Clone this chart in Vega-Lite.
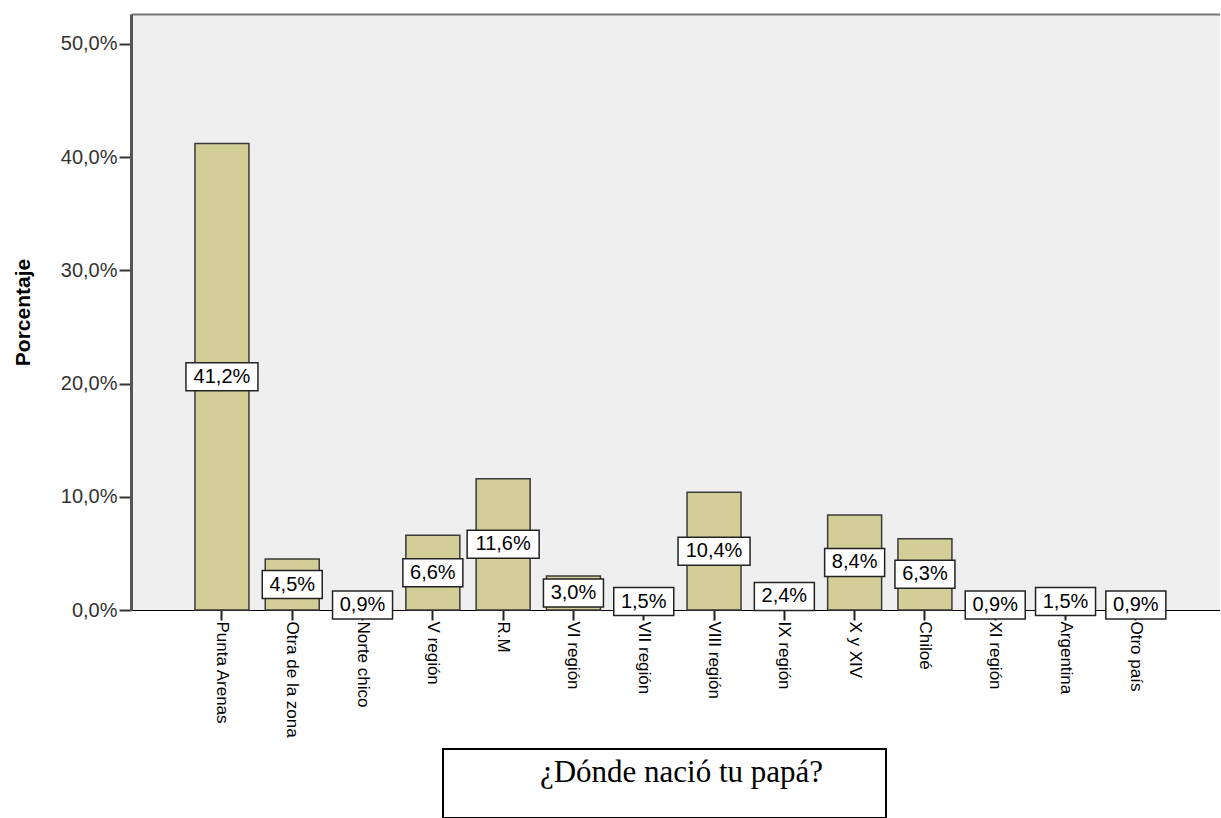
{
  "$schema": "https://vega.github.io/schema/vega-lite/v6.json",
  "padding": {"left": 12, "top": 14, "right": 0, "bottom": 0},
  "autosize": {"type": "pad"},
  "background": "white",
  "config": {
    "locale": {"number": {"decimal": ",", "thousands": ".", "grouping": [3], "currency": ["", " €"]}},
    "font": "Liberation Sans",
    "view": {"stroke": null},
    "concat": {"spacing": 10}
  },
  "datasets": {
    "d": [
      {"lugar": "Punta Arenas", "pct": 0.412},
      {"lugar": "Otra de la zona", "pct": 0.045},
      {"lugar": "Norte chico", "pct": 0.009},
      {"lugar": "V región", "pct": 0.066},
      {"lugar": "R.M", "pct": 0.116},
      {"lugar": "VI región", "pct": 0.030},
      {"lugar": "VII región", "pct": 0.015},
      {"lugar": "VIII región", "pct": 0.104},
      {"lugar": "IX región", "pct": 0.024},
      {"lugar": "X y XIV", "pct": 0.084},
      {"lugar": "Chiloé", "pct": 0.063},
      {"lugar": "XI región", "pct": 0.009},
      {"lugar": "Argentina", "pct": 0.015},
      {"lugar": "Otro país", "pct": 0.009}
    ]
  },
  "vconcat": [
    {
      "width": 1089,
      "height": 596,
      "data": {"name": "d"},
      "view": {"fill": "#efefef", "stroke": null},
      "layer": [
        {
          "mark": {"type": "bar", "fill": "#d3ce98", "stroke": "#3a3a3a", "strokeWidth": 1.5},
          "encoding": {
            "x": {
              "field": "lugar", "type": "nominal", "sort": null,
              "scale": {"paddingInner": 0.232, "paddingOuter": 0.8615, "align": 0.528},
              "axis": {"orient": "bottom", "title": null, "labelAngle": 90, "labelFontSize": 17, "labelColor": "#000", "domainColor": "#000", "domainWidth": 1, "tickColor": "#222", "tickSize": 10, "tickWidth": 2, "labelPadding": 1}
            },
            "y": {
              "field": "pct", "type": "quantitative",
              "scale": {"domain": [0, 0.5265], "nice": false, "zero": true},
              "axis": {"values": [0, 0.1, 0.2, 0.3, 0.4, 0.5], "format": ".1%", "title": "Porcentaje", "titleFontSize": 21, "titleFontWeight": "bold", "titleColor": "#000", "titlePadding": 27, "labelFontSize": 20, "labelColor": "#333", "labelPadding": 2, "domainColor": "#555", "domainWidth": 3, "tickColor": "#333", "tickSize": 12, "tickWidth": 2, "grid": false}
            }
          }
        },
        {
          "mark": {"type": "point", "filled": true, "color": "white", "opacity": 1, "stroke": "#222", "strokeWidth": 1.5},
          "encoding": {
            "x": {"field": "lugar", "type": "nominal", "sort": null, "axis": null},
            "y": {"field": "pct", "type": "quantitative", "scale": {"domain": [0, 1.053], "nice": false}, "axis": null},
            "shape": {"condition": {"test": "datum.pct >= 0.1", "value": "M-1,-0.389L1,-0.389L1,0.389L-1,0.389Z"}, "value": "M-1,-0.467L1,-0.467L1,0.467L-1,0.467Z"},
            "size": {"condition": {"test": "datum.pct >= 0.1", "value": 5184}, "value": 3600}
          }
        },
        {
          "mark": {"type": "text", "fontSize": 20, "color": "#000"},
          "encoding": {
            "x": {"field": "lugar", "type": "nominal", "sort": null, "axis": {"orient": "top", "labels": false, "ticks": false, "title": null, "domainColor": "#777", "domainWidth": 2}},
            "y": {"field": "pct", "type": "quantitative", "scale": {"domain": [0, 1.053], "nice": false}, "axis": null},
            "text": {"field": "pct", "type": "quantitative", "format": ".1%"}
          }
        }
      ],
      "resolve": {"scale": {"y": "independent"}, "axis": {"x": "independent", "y": "independent"}}
    },
    {
      "spacing": 0,
      "hconcat": [
        {
          "width": 311,
          "height": 69,
          "data": {"values": [{"t": ""}]},
          "mark": {"type": "text"},
          "encoding": {"text": {"field": "t"}},
          "view": {"stroke": null}
        },
        {
          "width": 443,
          "height": 69,
          "data": {"values": [{"t": "¿Dónde nació tu papá?"}]},
          "mark": {"type": "text", "font": "Liberation Serif", "fontSize": 31, "color": "#000", "dx": 17, "dy": -11},
          "encoding": {"text": {"field": "t"}},
          "view": {"stroke": "#000", "strokeWidth": 2}
        }
      ]
    }
  ]
}
